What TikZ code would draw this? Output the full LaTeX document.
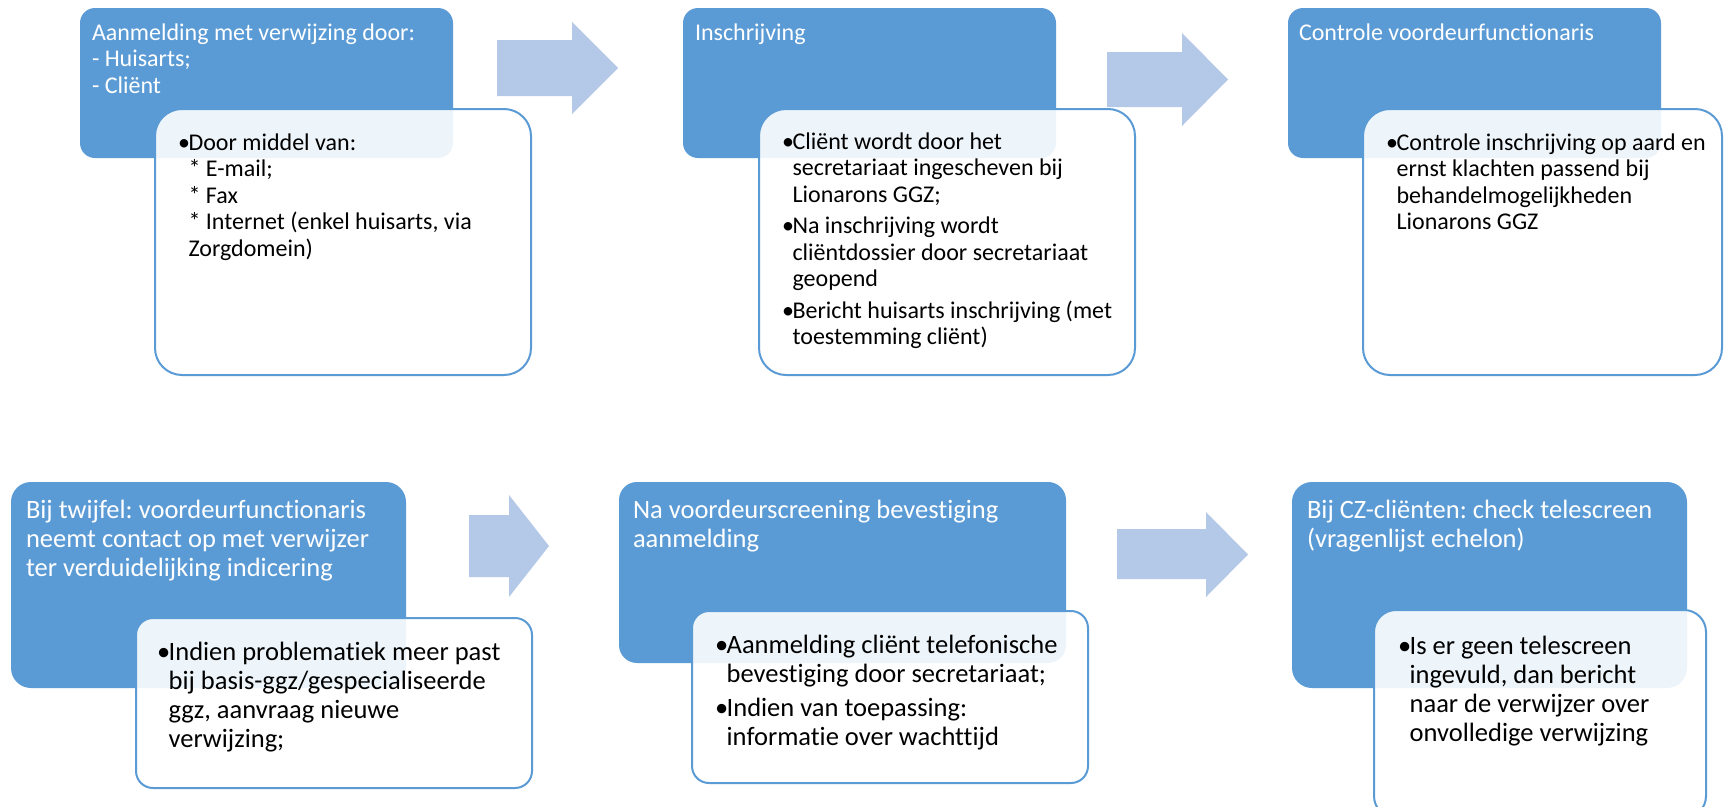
\documentclass[tikz,border=0pt]{standalone}
\usepackage{fontspec}
\setmainfont{Carlito}[Ligatures=NoCommon]
\frenchspacing
\definecolor{sablue}{HTML}{5B9BD5}
\definecolor{saarrow}{HTML}{B4C8E8}
\newcommand{\bl}{\makebox[0.44em][l]{•}}
\newcommand{\ind}{\hspace*{0.44em}}
\tikzset{
  bluebox/.style={fill=sablue, draw=none, anchor=north west, inner sep=0pt, outer sep=0pt},
  whitebox/.style={draw=sablue, line width=2pt, fill=white, fill opacity=0.9, draw opacity=1,
                   anchor=north west, inner sep=0pt, outer sep=0pt},
  arrowshape/.style={fill=saarrow, draw=none},
  toptext/.style={anchor=base west, align=left, inner sep=0pt, outer sep=0pt,
                  font=\fontsize{24}{26.5}\selectfont\frenchspacing},
  bottext/.style={anchor=base west, align=left, inner sep=0pt, outer sep=0pt,
                  font=\fontsize{26.5}{29}\selectfont\frenchspacing},
  wtext/.style={text=white},
  ktext/.style={text=black}
}
\begin{document}
\begin{tikzpicture}[x=1pt,y=-1pt]
\useasboundingbox (0,0) rectangle (1724,806);
\fill[white] (0,0) rectangle (1724,806);
\begin{scope}
\clip (0,0) rectangle (1724,806);

% ---------- row 1 ----------
\node[bluebox, rounded corners=15pt, minimum width=373pt, minimum height=150pt] (b1) at (80,8) {};
\node[whitebox, rounded corners=27pt, minimum width=376pt, minimum height=266pt] (w1) at (155,109) {};
\node[bluebox, rounded corners=15pt, minimum width=373pt, minimum height=150pt] (b2) at (683,8) {};
\node[whitebox, rounded corners=27pt, minimum width=376pt, minimum height=266pt] (w2) at (759,109) {};
\node[bluebox, rounded corners=15pt, minimum width=373pt, minimum height=150pt] (b3) at (1288,8) {};
\node[whitebox, rounded corners=27pt, minimum width=359pt, minimum height=266pt] (w3) at (1363,109) {};

\fill[arrowshape] (497,40) -- (572,40) -- (572,22) -- (618,68) -- (572,114) -- (572,96) -- (497,96) -- cycle;
\fill[arrowshape] (1107,52) -- (1182,52) -- (1182,33) -- (1228,79.5) -- (1182,126) -- (1182,107) -- (1107,107) -- cycle;

% (base anchor = baseline of the last line)
\node[toptext, wtext] (t1) at (92,93) {Aanmelding met verwijzing door:\\- Huisarts;\\- Cliënt};
\node[toptext, ktext] (u1) at (178,256) {\bl Door middel van:\\\ind * E-mail;\\\ind * Fax\\\ind * Internet (enkel huisarts, via\\\ind Zorgdomein)};
\node[toptext, wtext] (t2) at (695,40) {Inschrijving};
\node[toptext, ktext] (u2) at (782,344.5) {\bl Cliënt wordt door het\\\ind secretariaat ingescheven bij\\\ind Lionarons GGZ;\\[5pt]\bl Na inschrijving wordt\\\ind cliëntdossier door secretariaat\\\ind geopend\\[5pt]\bl Bericht huisarts inschrijving (met\\\ind toestemming cliënt)};
\node[toptext, wtext] (t3) at (1299,40) {Controle voordeurfunctionaris};
\node[toptext, ktext] (u3) at (1386,229.5) {\bl Controle inschrijving op aard en\\\ind ernst klachten passend bij\\\ind behandelmogelijkheden\\\ind Lionarons GGZ};

% ---------- row 2 ----------
\node[bluebox, rounded corners=20pt, minimum width=395pt, minimum height=206pt] (b4) at (11,482) {};
\node[whitebox, rounded corners=17pt, minimum width=396pt, minimum height=170pt] (w4) at (136,618) {};
\node[bluebox, rounded corners=18pt, minimum width=447pt, minimum height=181pt] (b5) at (619,482) {};
\node[whitebox, rounded corners=17pt, minimum width=396pt, minimum height=172pt] (w5) at (692,611) {};
\node[bluebox, rounded corners=20pt, minimum width=395pt, minimum height=206pt] (b6) at (1292,482) {};
\node[whitebox, rounded corners=22pt, minimum width=332pt, minimum height=208pt] (w6) at (1374,610) {};

\fill[arrowshape] (469,515) -- (509,515) -- (509,495) -- (549,546) -- (509,597) -- (509,577) -- (469,577) -- cycle;
\fill[arrowshape] (1117,529) -- (1206,529) -- (1206,512) -- (1248,554.5) -- (1206,597) -- (1206,579) -- (1117,579) -- cycle;

\node[bottext, wtext] (t4) at (26,576) {Bij twijfel: voordeurfunctionaris\\neemt contact op met verwijzer\\ter verduidelijking indicering};
\node[bottext, ktext] (u4) at (157,747) {\bl Indien problematiek meer past\\\ind bij basis-ggz/gespecialiseerde\\\ind ggz, aanvraag nieuwe\\\ind verwijzing;};
\node[bottext, wtext] (t5) at (633,547) {Na voordeurscreening bevestiging\\aanmelding};
\node[bottext, ktext] (u5) at (715,745) {\bl Aanmelding cliënt telefonische\\\ind bevestiging door secretariaat;\\[5pt]\bl Indien van toepassing:\\\ind informatie over wachttijd};
\node[bottext, wtext] (t6) at (1307,547) {Bij CZ-cliënten: check telescreen\\(vragenlijst echelon)};
\node[bottext, ktext] (u6) at (1398,741) {\bl Is er geen telescreen\\\ind ingevuld, dan bericht\\\ind naar de verwijzer over\\\ind onvolledige verwijzing};
\end{scope}
\end{tikzpicture}
\end{document}
